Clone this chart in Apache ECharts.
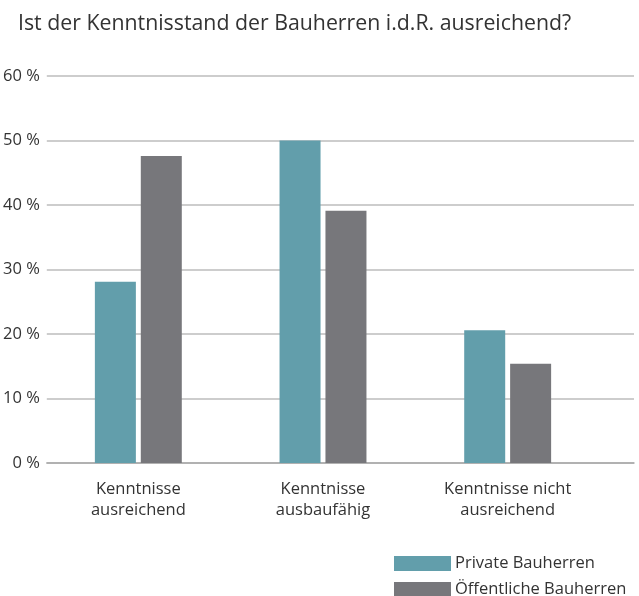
<!DOCTYPE html>
<html>
<head>
<meta charset="utf-8">
<script src="https://cdn.jsdelivr.net/npm/echarts@6/dist/echarts.min.js"></script>
<style>
html,body{margin:0;padding:0;background:#fff;}
#chart{width:639px;height:596px;}
</style>
</head>
<body>
<div id="chart"></div>
<script>
const titleText = 'Ist der Kenntnisstand der Bauherren i.d.R. ausreichend?';
const categories = ['Kenntnisse\nausreichend', 'Kenntnisse\nausbaufähig', 'Kenntnisse nicht\nausreichend'];
const seriesNames = ['Private Bauherren', 'Öffentliche Bauherren'];
const privateValues = [28.1, 50.0, 20.6];
const publicValues = [47.6, 39.1, 15.4];
const yTicks = [0, 10, 20, 30, 40, 50, 60];

const FONT = 'Open Sans';
const chart = echarts.init(document.getElementById('chart'), null, {renderer: 'canvas'});
chart.setOption({
  animation: false,
  backgroundColor: '#ffffff',
  title: {
    text: titleText,
    left: 13, top: 8,
    textStyle: {fontFamily: FONT, fontSize: 21.3, fontWeight: 'normal', color: '#333333'}
  },
  legend: {
    orient: 'vertical',
    left: 394, top: 555, height: 60, padding: 0,
    itemWidth: 57, itemHeight: 15, itemGap: 9,
    icon: 'rect',
    textStyle: {fontFamily: FONT, fontSize: 16.5, color: '#333333', padding: [0, 0, 0, -1]},
    data: seriesNames
  },
  grid: [
    {left: 42, right: 5, top: 76, bottom: 133, containLabel: false},
    {left: 46, width: 554, top: 76, bottom: 133, containLabel: false}
  ],
  xAxis: [
    {gridIndex: 0, type: 'value', min: 0, max: 1,
     axisLine: {show: true, lineStyle: {color: '#a8a8a8', width: 1.5}},
     axisTick: {show: false}, axisLabel: {show: false}, splitLine: {show: false}},
    {gridIndex: 1, type: 'category', data: categories,
     axisLine: {show: false}, axisTick: {show: false},
     axisLabel: {fontFamily: FONT, fontSize: 16.5, color: '#333333', lineHeight: 21, margin: 16}}
  ],
  yAxis: [
    {gridIndex: 0, type: 'value', min: yTicks[0], max: yTicks[yTicks.length - 1], interval: 10,
     axisLine: {show: false}, axisTick: {show: false},
     axisLabel: {fontFamily: FONT, fontSize: 16.5, color: '#333333', margin: 7, formatter: v => v + ' %'},
     splitLine: {show: true, lineStyle: {color: '#bdbdbd', width: 1.5}}},
    {gridIndex: 1, type: 'value', min: 0, max: 60, interval: 10, show: false}
  ],
  series: [
    {name: seriesNames[0], type: 'bar', xAxisIndex: 1, yAxisIndex: 1, data: privateValues,
     barWidth: 41, barGap: '12%', itemStyle: {color: '#629eab'}},
    {name: seriesNames[1], type: 'bar', xAxisIndex: 1, yAxisIndex: 1, data: publicValues,
     barWidth: 41, barGap: '12%', itemStyle: {color: '#77777b'}}
  ]
});
</script>
</body>
</html>
